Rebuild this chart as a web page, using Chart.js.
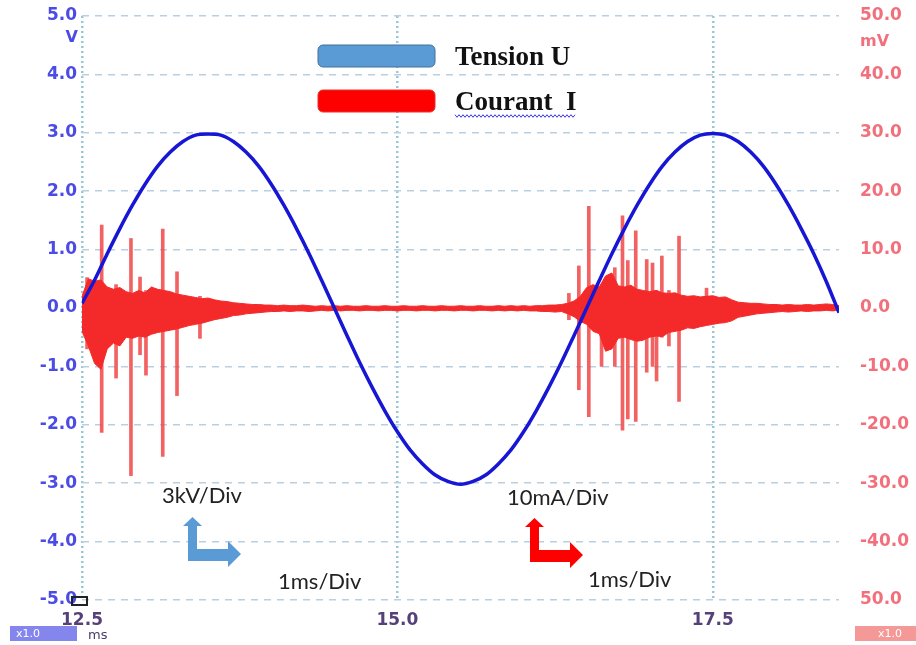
<!DOCTYPE html>
<html>
<head>
<meta charset="utf-8">
<script src="https://cdn.jsdelivr.net/npm/chart.js@4.4.0/dist/chart.umd.min.js"></script>
<style>
body { margin: 0; background: #fff; }
canvas { display: block; }
</style>
</head>
<body>
<canvas id="scope" width="916" height="645"></canvas>
<script>
// series names
var seriesNames = ["Tension U", "Courant  I"];

// tick labels
var xTicks = [12.5, 15.0, 17.5];
var xTickLabels = ["12.5", "15.0", "17.5"];
var leftTickLabels = ["5.0", "4.0", "3.0", "2.0", "1.0", "0.0", "-1.0", "-2.0", "-3.0", "-4.0", "-5.0"];
var rightTickLabels = ["50.0", "40.0", "30.0", "20.0", "10.0", "0.0", "-10.0", "-20.0", "-30.0", "-40.0", "50.0"];

// voltage (V), read every 0.1 ms
var uTime = [12.5,12.6,12.7,12.8,12.9,13.0,13.1,13.2,13.3,13.4,13.5,13.6,13.7,13.8,13.9,14.0,14.1,14.2,14.3,14.4,
    14.5,14.6,14.7,14.8,14.9,15.0,15.1,15.2,15.3,15.4,15.5,15.6,15.7,15.8,15.9,16.0,16.1,16.2,16.3,16.4,
    16.5,16.6,16.7,16.8,16.9,17.0,17.1,17.2,17.3,17.4,17.5,17.6,17.7,17.8,17.9,18.0,18.1,18.2,18.3,18.4,18.5];
var uVal = [0.08,0.48,0.93,1.36,1.76,2.12,2.43,2.67,2.85,2.96,2.98,2.96,2.85,2.67,2.43,2.12,1.76,1.36,0.93,0.47,
    0.0,-0.47,-0.93,-1.36,-1.76,-2.12,-2.43,-2.67,-2.86,-2.97,-3.02,-2.97,-2.86,-2.67,-2.43,-2.12,-1.76,-1.36,-0.93,-0.47,
    0.0,0.47,0.93,1.36,1.76,2.12,2.43,2.67,2.85,2.96,2.99,2.96,2.85,2.67,2.43,2.12,1.76,1.36,0.93,0.45,-0.08];

// current (mV) : envelope of the dense noise band, every 0.05 ms
var iTime = [12.50,12.55,12.60,12.65,12.70,12.75,12.80,12.85,12.90,12.95,
    13.00,13.05,13.10,13.15,13.20,13.25,13.30,13.35,13.40,13.45,
    13.50,13.55,13.60,13.65,13.70,13.75,13.80,13.85,13.90,13.95,
    14.00,14.05,14.10,14.15,14.20,14.25,14.30,14.35,14.40,14.45,
    14.50,14.55,14.60,14.65,14.70,14.75,14.80,14.85,14.90,14.95,
    15.00,15.05,15.10,15.15,15.20,15.25,15.30,15.35,15.40,15.45,
    15.50,15.55,15.60,15.65,15.70,15.75,15.80,15.85,15.90,15.95,
    16.00,16.05,16.10,16.15,16.20,16.25,16.30,16.35,16.40,16.45,
    16.50,16.55,16.60,16.65,16.70,16.75,16.80,16.85,16.90,16.95,
    17.00,17.05,17.10,17.15,17.20,17.25,17.30,17.35,17.40,17.45,
    17.50,17.55,17.60,17.65,17.70,17.75,17.80,17.85,17.90,17.95,
    18.00,18.05,18.10,18.15,18.20,18.25,18.30,18.35,18.40,18.45,
    18.50];
var iUpper = [2.0,5.0,4.6,4.8,3.6,3.2,3.5,2.8,2.5,3.0,
    2.6,3.6,3.2,3.0,2.8,2.4,2.2,2.0,1.8,1.6,
    1.7,1.4,1.2,1.1,0.9,0.8,0.7,0.6,0.6,0.5,
    0.5,0.4,0.5,0.4,0.4,0.5,0.4,0.3,0.4,0.3,
    0.4,0.3,0.4,0.3,0.3,0.4,0.3,0.3,0.4,0.3,
    0.3,0.4,0.3,0.3,0.4,0.3,0.3,0.4,0.3,0.3,
    0.4,0.3,0.3,0.4,0.3,0.3,0.4,0.3,0.4,0.3,
    0.4,0.3,0.4,0.4,0.5,0.5,0.6,0.8,1.2,2.0,
    3.5,4.0,3.6,5.5,6.0,3.8,3.6,3.9,3.2,3.0,
    2.8,3.0,2.6,2.5,2.6,2.2,2.0,2.1,1.9,2.0,
    2.1,1.8,1.9,1.4,1.0,0.9,0.8,0.8,0.7,0.6,
    0.6,0.5,0.6,0.5,0.5,0.6,0.5,0.6,0.7,0.6,
    0.4];
var iLower = [-4.0,-6.5,-9.5,-10.5,-7.0,-6.0,-6.5,-5.0,-5.2,-4.8,
    -5.0,-4.5,-4.2,-4.0,-3.8,-3.6,-3.3,-3.0,-2.8,-2.6,
    -2.3,-2.0,-1.8,-1.6,-1.3,-1.2,-1.0,-0.9,-0.8,-0.7,
    -0.6,-0.6,-0.5,-0.6,-0.5,-0.5,-0.6,-0.5,-0.4,-0.5,
    -0.4,-0.5,-0.4,-0.4,-0.5,-0.4,-0.4,-0.5,-0.4,-0.4,
    -0.5,-0.4,-0.4,-0.5,-0.4,-0.4,-0.5,-0.4,-0.4,-0.5,
    -0.4,-0.4,-0.5,-0.4,-0.4,-0.5,-0.4,-0.5,-0.4,-0.5,
    -0.4,-0.5,-0.5,-0.6,-0.6,-0.7,-0.6,-1.0,-1.5,-2.3,
    -2.8,-4.0,-4.4,-7.4,-7.0,-5.2,-5.0,-5.4,-5.7,-5.5,
    -5.0,-4.8,-4.9,-4.2,-4.0,-3.8,-3.4,-3.5,-3.2,-3.0,
    -2.8,-2.6,-2.5,-2.2,-1.6,-1.4,-1.2,-1.0,-0.9,-0.8,
    -0.7,-0.6,-0.7,-0.6,-0.5,-0.6,-0.5,-0.5,-0.4,-0.5,
    -0.3];

// current spikes (mV)
var spikeTime = [12.54,12.656,12.77,12.888,12.96,13.007,13.14,13.253,13.435,
    16.359,16.438,16.517,16.618,16.723,16.784,16.826,16.889,16.976,17.022,17.054,17.096,17.152,17.232,17.45];
var spikeLow = [-7.0,-21.3,-12.0,-28.7,-8.0,-11.5,-25.4,-15.0,-5.2,
    -2.0,-14.0,-18.6,-10.0,-10.0,-20.9,-19.0,-19.4,-11.0,-10.0,-12.5,-5.0,-6.5,-16.0,-2.5];
var spikeHigh = [5.2,14.2,4.0,11.9,5.3,3.0,13.5,6.2,2.0,
    2.5,7.2,17.4,4.0,6.9,15.8,8.1,13.2,8.3,7.7,3.0,8.9,3.0,12.3,3.4];

var uPoints = uTime.map(function (t, i) { return {x: t, y: uVal[i]}; });
var upPoints = iTime.map(function (t, i) { return {x: t, y: iUpper[i]}; });
var loPoints = iTime.map(function (t, i) { return {x: t, y: iLower[i]}; });
var spikePoints = spikeTime.map(function (t, i) { return {x: t, y: [spikeLow[i], spikeHigh[i]]}; });

var tickFont = {family: "DejaVu Sans", size: 17, weight: "bold"};

function fixWidth(w) {
    return function (scale) {
        scale.width = w;
        scale.paddingTop = 8;
        scale.paddingBottom = 8;
    };
}

function drawArrow(c, x, y, color) {
    // L shaped double arrow, (x, y) = inner corner bottom-left
    c.fillStyle = color;
    c.beginPath();
    c.moveTo(x, y);
    c.lineTo(x, y - 35);
    c.lineTo(x - 5, y - 35);
    c.lineTo(x + 4.5, y - 44);
    c.lineTo(x + 14, y - 35);
    c.lineTo(x + 9, y - 35);
    c.lineTo(x + 9, y - 12);
    c.lineTo(x + 40, y - 12);
    c.lineTo(x + 40, y - 20);
    c.lineTo(x + 53, y - 7);
    c.lineTo(x + 40, y + 6);
    c.lineTo(x + 40, y);
    c.closePath();
    c.fill();
}

var decor = {
    id: "decor",
    afterDraw: function (chart) {
        var c = chart.ctx;
        c.save();
        // legend
        var boxes = [["#5b9bd5", "#41719c", 45], ["#ff0000", "#e83030", 90]];
        boxes.forEach(function (b, i) {
            c.beginPath();
            c.roundRect(318, b[2], 117, 22, 5);
            c.fillStyle = b[0];
            c.fill();
            c.lineWidth = 1;
            c.strokeStyle = b[1];
            c.stroke();
            c.fillStyle = "#111";
            c.font = "bold 27px 'Liberation Serif'";
            c.textBaseline = "alphabetic";
            c.textAlign = "left";
            c.fillText(seriesNames[i], 455, b[2] + 20);
        });
        // spell-check squiggle
        c.strokeStyle = "#3a3ad8";
        c.lineWidth = 1;
        c.beginPath();
        for (var k = 0; k <= 60; k++) {
            var sx = 455 + k * 2, sy = 116 + (k % 2 ? 1.3 : -1.3);
            if (k === 0) c.moveTo(sx, sy); else c.lineTo(sx, sy);
        }
        c.stroke();

        // units
        c.font = "bold 16px 'DejaVu Sans'";
        c.fillStyle = "#4b4be6";
        c.textAlign = "right";
        c.textBaseline = "middle";
        c.fillText("V", 78, 38);
        c.fillStyle = "#f2707c";
        c.textAlign = "left";
        c.fillText("mV", 860, 42);
        c.fillStyle = "#4a3a6a";
        c.font = "13px 'DejaVu Sans'";
        c.fillText("ms", 88, 636);

        // small marker next to -5.0
        c.strokeStyle = "#222";
        c.lineWidth = 2;
        c.strokeRect(72, 597, 15, 8);

        // x1.0 boxes
        c.fillStyle = "#8585ee";
        c.fillRect(10, 626, 67, 15);
        c.fillStyle = "#f59898";
        c.fillRect(855, 626, 61, 15);
        c.fillStyle = "#fff";
        c.font = "11px 'DejaVu Sans'";
        c.textAlign = "left";
        c.fillText("x1.0", 16, 634);
        c.fillText("x1.0", 878, 634);

        // scale annotations
        c.fillStyle = "#222";
        c.font = "22px Lato";
        c.textBaseline = "middle";
        c.fillText("3kV/Div", 162, 496);
        c.fillText("1ms/Div", 278, 582);
        c.fillText("10mA/Div", 507, 498);
        c.fillText("1ms/Div", 588, 580);
        drawArrow(c, 188, 561, "#5b9bd5");
        drawArrow(c, 530, 562, "#ff0000");
        c.restore();
    }
};

new Chart(document.getElementById("scope").getContext("2d"), {
    type: "line",
    data: {
        datasets: [{
            label: seriesNames[0],
            data: uPoints,
            yAxisID: "yU",
            borderColor: "#1616d4",
            borderWidth: 3.5,
            pointRadius: 0,
            tension: 0.3,
            order: 0
        }, {
            label: seriesNames[1],
            data: upPoints,
            yAxisID: "yI",
            borderColor: "#f42a2a",
            backgroundColor: "#f42a2a",
            borderWidth: 1,
            pointRadius: 0,
            fill: "+1",
            order: 1
        }, {
            label: "lower",
            data: loPoints,
            yAxisID: "yI",
            borderColor: "#f42a2a",
            borderWidth: 1,
            pointRadius: 0,
            fill: false,
            order: 1
        }, {
            type: "bar",
            label: "spikes",
            data: spikePoints,
            yAxisID: "yI",
            backgroundColor: "rgba(240,70,70,0.85)",
            barThickness: 3,
            grouped: false,
            order: 2
        }]
    },
    options: {
        responsive: false,
        animation: false,
        layout: {padding: {top: 16}},
        plugins: {
            legend: {display: false},
            tooltip: {enabled: false}
        },
        scales: {
            x: {
                type: "linear",
                min: 12.5,
                max: 18.5,
                offset: false,
                afterBuildTicks: function (scale) {
                    scale.ticks = xTicks.map(function (v) { return {value: v}; });
                },
                afterFit: function (scale) { scale.height = 45; },
                ticks: {
                    autoSkip: false,
                    maxRotation: 0,
                    padding: 10,
                    color: "#55407a",
                    font: tickFont,
                    callback: function (v, i) { return xTickLabels[i]; }
                },
                grid: {color: "#96c8d8", lineWidth: 2.5, drawTicks: false, offset: false},
                border: {display: false, dash: [2, 3]}
            },
            yU: {
                type: "linear",
                position: "left",
                min: -5,
                max: 5,
                afterFit: fixWidth(82),
                ticks: {
                    stepSize: 1,
                    padding: 5,
                    color: "#4b4be6",
                    font: tickFont,
                    callback: function (v, i, ticks) { return leftTickLabels[ticks.length - 1 - i]; }
                },
                grid: {color: "#b9cfe2", lineWidth: 1.5, drawTicks: false},
                border: {display: false, dash: [7, 6]}
            },
            yI: {
                type: "linear",
                position: "right",
                min: -50,
                max: 50,
                afterFit: fixWidth(77),
                ticks: {
                    stepSize: 10,
                    padding: 21,
                    color: "#f2707c",
                    font: tickFont,
                    callback: function (v, i, ticks) { return rightTickLabels[ticks.length - 1 - i]; }
                },
                grid: {display: false, drawTicks: false},
                border: {display: false}
            }
        }
    },
    plugins: [decor]
});
</script>
</body>
</html>
